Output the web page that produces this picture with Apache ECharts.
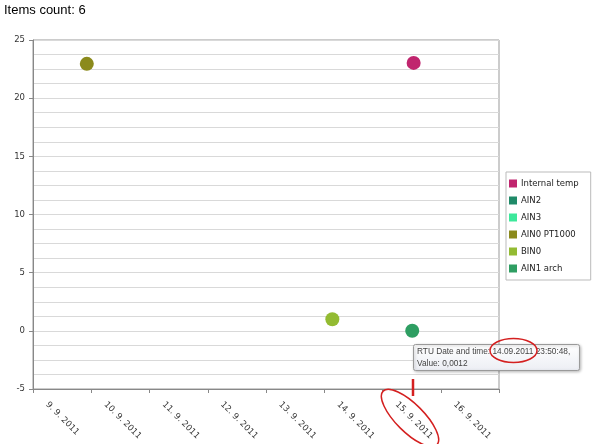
<!DOCTYPE html>
<html>
<head>
<meta charset="utf-8">
<script src="https://cdn.jsdelivr.net/npm/echarts@6/dist/echarts.min.js"></script>
<style>html,body{margin:0;padding:0;background:#fff;}#c{width:605px;height:444px;}</style>
</head>
<body>
<div id="c"></div>
<script>
// ---- data ----
const titleText = 'Items count: 6';
const startDate = '2011-09-09';
const dayLabels = ['9. 9. 2011','10. 9. 2011','11. 9. 2011','12. 9. 2011','13. 9. 2011','14. 9. 2011','15. 9. 2011','16. 9. 2011'];
const seriesNames = ['Internal temp','AIN2','AIN3','AIN0 PT1000','BIN0','AIN1 arch'];
const seriesColors = ['#c0256e','#1f8a68','#3de89b','#8b8a1c','#93bb32','#2e9e62'];
const internalTemp = [['2011-09-15 12:50', 23.03]];
const ain2 = [];
const ain3 = [];
const ain0pt1000 = [['2011-09-09 22:10', 22.95]];
const bin0 = [['2011-09-14 03:20', 1.0]];
const ain1arch = [['2011-09-15 12:15', 0.0012]];
const yTicks = {min: -5, max: 25, interval: 5};
const tooltipLines = ['RTU Date and time: 14.09.2011 23:50:48,', 'Value: 0,0012'];

function dayOffset(s) {
  const p = s.split(/[- :]/).map(Number);
  const s0 = startDate.split('-').map(Number);
  const t = Date.UTC(p[0], p[1]-1, p[2], p[3]||0, p[4]||0);
  const t0 = Date.UTC(s0[0], s0[1]-1, s0[2]);
  return (t - t0) / 86400000;
}
const allData = [internalTemp, ain2, ain3, ain0pt1000, bin0, ain1arch];

const chart = echarts.init(document.getElementById('c'), null, {renderer: 'canvas'});
const axisFont = 'DejaVu Sans';
chart.setOption({
  animation: false,
  title: {
    text: titleText, left: 4, top: 4, padding: 0,
    textStyle: {fontSize: 13, fontWeight: 'normal', color: '#000', fontFamily: 'Liberation Sans'}
  },
  grid: {left: 33, right: 106, top: 40, bottom: 55, show: true, borderColor: '#999', borderWidth: 1, outerBoundsMode: 'none', containLabel: false},
  legend: {
    orient: 'vertical', left: 506, top: 172,
    data: seriesNames,
    icon: 'rect', itemWidth: 8, itemHeight: 8, itemGap: 8,
    padding: [7, 12, 7, 3],
    borderColor: '#bbb', borderWidth: 1, backgroundColor: '#fff',
    textStyle: {fontSize: 8.5, fontFamily: axisFont, color: '#222', padding: [0,0,0,-1]}
  },
  xAxis: {
    type: 'value', min: 0, max: dayLabels.length, interval: 1,
    axisLine: {onZero: false, lineStyle: {color: '#888'}},
    axisTick: {length: 4, lineStyle: {color: '#888'}},
    splitLine: {show: false},
    axisLabel: {
      rotate: -45, margin: 0, padding: [0, 0, 0, 20],
      fontSize: 8.5, fontFamily: axisFont, color: '#333',
      formatter: function (v) { return dayLabels[Math.round(v)] || ''; }
    }
  },
  yAxis: {
    type: 'value', min: yTicks.min, max: yTicks.max, interval: yTicks.interval,
    axisLine: {show: true, onZero: false, lineStyle: {color: '#888'}},
    axisTick: {show: true, length: 4, lineStyle: {color: '#888'}},
    axisLabel: {fontSize: 8.5, fontFamily: axisFont, color: '#333', margin: 8},
    splitLine: {show: true, lineStyle: {color: '#d9d9d9'}},
    minorTick: {show: false, splitNumber: 4},
    minorSplitLine: {show: true, lineStyle: {color: '#d9d9d9'}}
  },
  series: seriesNames.map(function (name, i) {
    return {
      name: name, type: 'scatter', symbol: 'circle', symbolSize: 14,
      itemStyle: {color: seriesColors[i], opacity: 1},
      data: allData[i].map(function (d) { return [dayOffset(d[0]), d[1]]; })
    };
  }),
  graphic: [
    {type: 'rect', left: 413, top: 344, z: 100,
     shape: {width: 166, height: 26, r: 2},
     style: {fill: {type: 'linear', x: 0, y: 0, x2: 0, y2: 1, colorStops: [{offset: 0, color: '#ffffff'}, {offset: 1, color: '#eceef4'}]},
             stroke: '#9a9a9a', lineWidth: 1, shadowBlur: 3, shadowColor: 'rgba(0,0,0,0.25)', shadowOffsetX: 1, shadowOffsetY: 1}},
    {type: 'text', left: 417, top: 346, z: 101,
     style: {text: tooltipLines.join('\n'), fill: '#444', font: '8.3px "Liberation Sans"', lineHeight: 11.5}},
    {type: 'ellipse', x: 513.5, y: 350.5, z: 102,
     shape: {cx: 0, cy: 0, rx: 23.5, ry: 12}, style: {fill: 'none', stroke: '#d42020', lineWidth: 1.5}},
    {type: 'line', z: 102, shape: {x1: 413, y1: 379, x2: 413, y2: 396}, style: {stroke: '#d42020', lineWidth: 2.5}},
    {type: 'ellipse', x: 410, y: 418, rotation: -Math.PI / 4, z: 102,
     shape: {cx: 0, cy: 0, rx: 38, ry: 14}, style: {fill: 'none', stroke: '#d42020', lineWidth: 1.5}}
  ]
});
</script>
</body>
</html>
